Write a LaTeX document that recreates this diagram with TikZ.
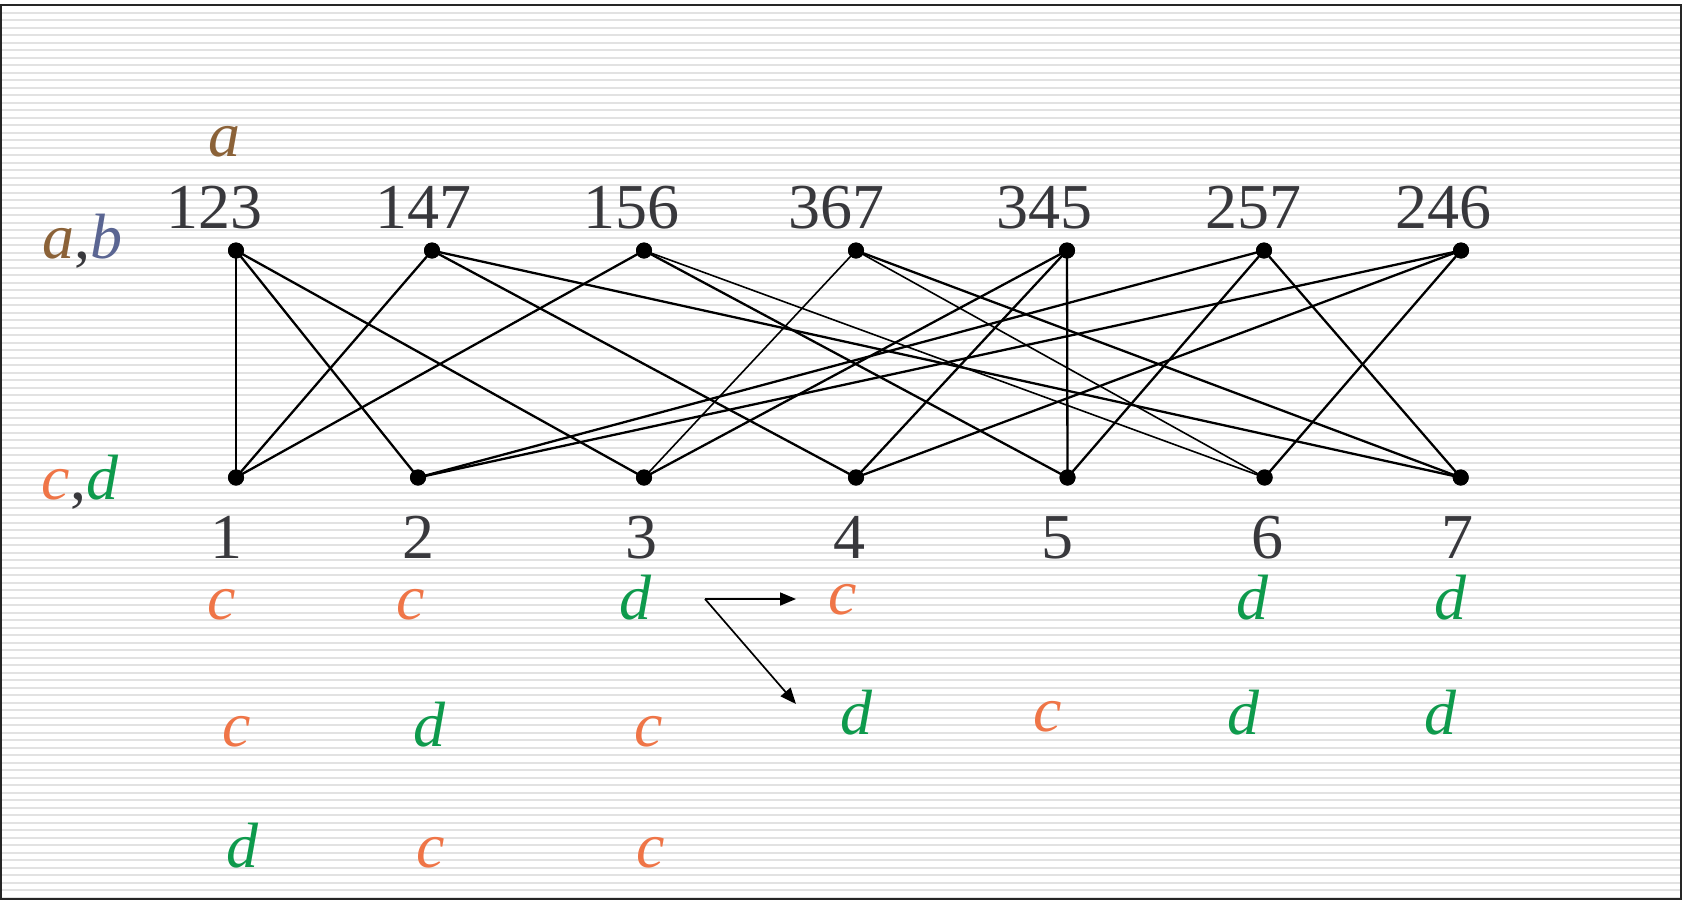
\documentclass[tikz,border=0pt]{standalone}
\usepackage{fontspec}
\setmainfont{Liberation Serif}
\usetikzlibrary{arrows.meta}
\definecolor{numgray}{HTML}{38383C}
\definecolor{cola}{HTML}{8B6238}
\definecolor{colb}{HTML}{5A6592}
\definecolor{colc}{HTML}{EF7547}
\definecolor{cold}{HTML}{0E9A4C}
\definecolor{stripecol}{HTML}{E2E2E2}
\begin{document}
\begin{tikzpicture}[x=1pt,y=-1pt,
  dot/.style={circle, fill=black, minimum size=16pt, inner sep=0pt},
  num/.style={anchor=base, inner sep=0pt, text=numgray, font=\fontsize{64}{70}\selectfont},
  lab/.style={anchor=base, inner sep=0pt, font=\fontsize{64}{70}\selectfont\itshape},
  link/.style={line width=2.3pt},
  thinlink/.style={line width=1.6pt},
  arr/.style={line width=1.7pt, -{Triangle[length=16pt,width=13pt]}}]
\useasboundingbox (0,0) rectangle (1686,906);
% background stripes
\fill[white] (1,5) rectangle (1681,899);
\foreach \k in {0,...,119}{
  \draw[stripecol, line width=2pt] (1,5+7.5*\k) -- (1681,5+7.5*\k);
}
\draw[line width=2pt, black!85] (1,5) rectangle (1681,899);
% top dots
\node[dot] (p123) at (236,250.5) {};
\node[dot] (p147) at (432,250.5) {};
\node[dot] (p156) at (644,250.5) {};
\node[dot] (p367) at (856,250.5) {};
\node[dot] (p345) at (1067,250.5) {};
\node[dot] (p257) at (1264,250.5) {};
\node[dot] (p246) at (1461,250.5) {};
% bottom dots
\node[dot] (q1) at (236,477.5) {};
\node[dot] (q2) at (418,477.5) {};
\node[dot] (q3) at (644,477.5) {};
\node[dot] (q4) at (856,477.5) {};
\node[dot] (q5) at (1067.5,477.5) {};
\node[dot] (q6) at (1264.6,477.5) {};
\node[dot] (q7) at (1460.7,477.5) {};
% edges
\draw[link] (p123.center) -- (q1.center);
\draw[link] (p123.center) -- (q2.center);
\draw[link] (p123.center) -- (q3.center);
\draw[link] (p147.center) -- (q1.center);
\draw[link] (p147.center) -- (q4.center);
\draw[link] (p147.center) -- (q7.center);
\draw[link] (p156.center) -- (q1.center);
\draw[link] (p156.center) -- (q5.center);
\draw[thinlink] (p156.center) -- (q6.center);
\draw[thinlink] (p367.center) -- (q3.center);
\draw[thinlink] (p367.center) -- (q6.center);
\draw[link] (p367.center) -- (q7.center);
\draw[link] (p345.center) -- (q3.center);
\draw[link] (p345.center) -- (q4.center);
\draw[link] (p345.center) -- (q5.center);
\draw[link] (p257.center) -- (q2.center);
\draw[link] (p257.center) -- (q5.center);
\draw[link] (p257.center) -- (q7.center);
\draw[link] (p246.center) -- (q2.center);
\draw[link] (p246.center) -- (q4.center);
\draw[link] (p246.center) -- (q6.center);
% redraw dots on top
\foreach \n in {p123,p147,p156,p367,p345,p257,p246,q1,q2,q3,q4,q5,q6,q7}{
  \fill (\n.center) circle (8pt);
}
% top labels
\node[num] (t123) at (214.5,228) {123};
\node[num] (t147) at (423,228) {147};
\node[num] (t156) at (631,228) {156};
\node[num] (t367) at (836.6,228) {367};
\node[num] (t345) at (1044.7,228) {345};
\node[num] (t257) at (1253,228) {257};
\node[num] (t246) at (1443.7,228) {246};
% bottom labels
\node[num] (b1) at (226.5,558) {1};
\node[num] (b2) at (418,558) {2};
\node[num] (b3) at (641.6,558) {3};
\node[num] (b4) at (849.7,558) {4};
\node[num] (b5) at (1057.6,558) {5};
\node[num] (b6) at (1267,558) {6};
\node[num] (b7) at (1457,558) {7};
% side labels
\node[lab, text=cola] (la) at (224,156) {a};
\node[lab] (lab) at (82,258) {\textcolor{cola}{a}\textcolor{numgray}{\upshape,}\textcolor{colb}{b}};
\node[lab] (lcd) at (80,499) {\textcolor{colc}{c}\textcolor{numgray}{\upshape,}\textcolor{cold}{d}};
% row 1
\node[lab, text=colc] (r1a) at (222,619) {c};
\node[lab, text=colc] (r1b) at (411,619) {c};
\node[lab, text=cold] (r1c) at (635,619) {d};
\node[lab, text=colc] (r1d) at (843,614) {c};
\node[lab, text=cold] (r1f) at (1252,619) {d};
\node[lab, text=cold] (r1g) at (1450,619) {d};
% row 2
\node[lab, text=colc] (r2a) at (237,746) {c};
\node[lab, text=cold] (r2b) at (429,746) {d};
\node[lab, text=colc] (r2c) at (649,746) {c};
\node[lab, text=cold] (r2d) at (856,734) {d};
\node[lab, text=colc] (r2e) at (1048,731) {c};
\node[lab, text=cold] (r2f) at (1243,734) {d};
\node[lab, text=cold] (r2g) at (1440,734) {d};
% row 3
\node[lab, text=cold] (r3a) at (242,867) {d};
\node[lab, text=colc] (r3b) at (431,867) {c};
\node[lab, text=colc] (r3c) at (651,867) {c};
% arrows
\coordinate (arrstart) at (705,599);
\coordinate (arrendc) at (796,599);
\coordinate (arrendd) at (796,704);
\draw[arr] (arrstart) -- (arrendc);
\draw[arr] (arrstart) -- (arrendd);
\end{tikzpicture}
\end{document}
